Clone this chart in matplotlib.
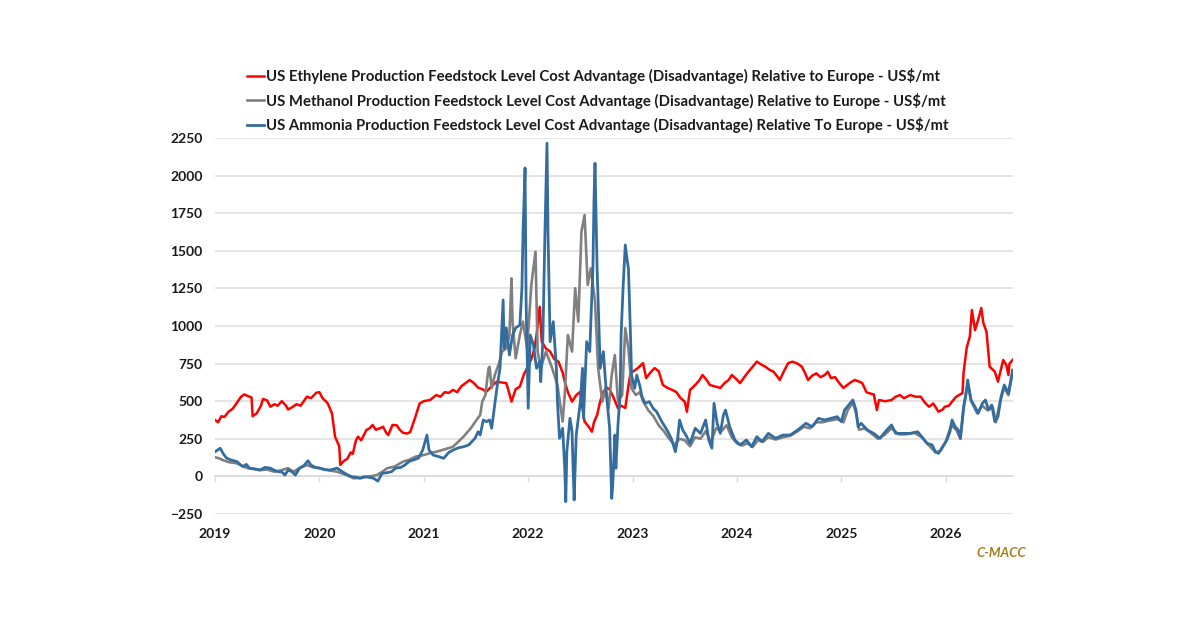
import matplotlib
matplotlib.use("Agg")
import matplotlib.pyplot as plt
from matplotlib.ticker import FixedLocator

# ---------------- data (decimal year, US$/mt) ----------------
eth_x = [2019.00, 2019.03, 2019.06, 2019.09, 2019.13, 2019.17, 2019.21, 2019.25, 2019.28, 2019.33,
         2019.35, 2019.36, 2019.40, 2019.44, 2019.46, 2019.50, 2019.53, 2019.57, 2019.60, 2019.64,
         2019.68, 2019.70, 2019.74, 2019.78, 2019.82, 2019.88, 2019.92, 2019.97, 2020.00, 2020.03,
         2020.06, 2020.08, 2020.12, 2020.15, 2020.19, 2020.20, 2020.23, 2020.27, 2020.30, 2020.32,
         2020.35, 2020.37, 2020.40, 2020.43, 2020.45, 2020.48, 2020.51, 2020.54, 2020.58, 2020.61,
         2020.64, 2020.66, 2020.70, 2020.74, 2020.77, 2020.80, 2020.84, 2020.87, 2020.92, 2020.96,
         2021.00, 2021.06, 2021.12, 2021.16, 2021.20, 2021.24, 2021.28, 2021.32, 2021.36, 2021.40,
         2021.44, 2021.48, 2021.52, 2021.56, 2021.60, 2021.65, 2021.70, 2021.74, 2021.79, 2021.82,
         2021.84, 2021.88, 2021.92, 2021.96, 2021.99, 2022.03, 2022.06, 2022.08, 2022.11, 2022.13,
         2022.17, 2022.21, 2022.25, 2022.29, 2022.33, 2022.35, 2022.38, 2022.42, 2022.46, 2022.50,
         2022.52, 2022.54, 2022.58, 2022.61, 2022.63, 2022.66, 2022.69, 2022.72, 2022.75, 2022.78,
         2022.82, 2022.86, 2022.89, 2022.93, 2022.96, 2022.98, 2023.01, 2023.05, 2023.10, 2023.13,
         2023.17, 2023.21, 2023.25, 2023.29, 2023.33, 2023.38, 2023.42, 2023.46, 2023.50, 2023.52,
         2023.55, 2023.60, 2023.64, 2023.67, 2023.71, 2023.74, 2023.78, 2023.84, 2023.88, 2023.92,
         2023.95, 2023.99, 2024.03, 2024.07, 2024.11, 2024.15, 2024.19, 2024.23, 2024.27, 2024.31,
         2024.35, 2024.38, 2024.41, 2024.45, 2024.49, 2024.53, 2024.58, 2024.62, 2024.65, 2024.68,
         2024.72, 2024.76, 2024.80, 2024.84, 2024.87, 2024.90, 2024.94, 2024.98, 2025.02, 2025.06,
         2025.10, 2025.13, 2025.17, 2025.20, 2025.24, 2025.26, 2025.31, 2025.34, 2025.36, 2025.42,
         2025.48, 2025.52, 2025.56, 2025.60, 2025.66, 2025.71, 2025.76, 2025.80, 2025.84, 2025.88,
         2025.93, 2025.97, 2025.99, 2026.03, 2026.06, 2026.10, 2026.16, 2026.17, 2026.20, 2026.23,
         2026.25, 2026.28, 2026.31, 2026.34, 2026.36, 2026.39, 2026.42, 2026.47, 2026.50, 2026.55,
         2026.58, 2026.60, 2026.61, 2026.64]
eth_y = [375, 360, 400, 395, 430, 450, 490, 530, 545, 530,
         525, 400, 420, 470, 515, 505, 463, 480, 470, 500,
         470, 445, 460, 480, 470, 530, 520, 556, 560, 520,
         500, 485, 420, 264, 200, 76, 100, 120, 160, 150,
         240, 264, 240, 280, 308, 320, 342, 310, 320, 330,
         290, 275, 342, 340, 310, 290, 285, 295, 397, 485,
         500, 508, 541, 530, 560, 555, 575, 560, 600, 620,
         641, 620, 590, 580, 563, 600, 630, 625, 620, 550,
         497, 580, 597, 680, 720, 780, 850, 940, 1128, 895,
         850, 830, 780, 763, 690, 630, 560, 497, 540, 563,
         450, 364, 330, 297, 360, 408, 500, 563, 590, 580,
         520, 453, 470, 455, 600, 690, 700, 720, 753, 654,
         690, 720, 700, 608, 590, 575, 560, 520, 497, 430,
         575, 608, 640, 674, 640, 608, 600, 588, 620, 641,
         674, 650, 620, 660, 696, 730, 763, 745, 730, 710,
         696, 670, 641, 700, 753, 763, 750, 730, 690, 641,
         670, 685, 660, 674, 696, 654, 660, 620, 588, 610,
         630, 641, 630, 620, 560, 554, 545, 441, 508, 500,
         508, 530, 541, 520, 541, 530, 530, 490, 463, 485,
         430, 445, 463, 470, 497, 530, 554, 687, 854, 929,
         1106, 973, 1040, 1120, 1020, 962, 730, 696, 630, 774,
         740, 674, 750, 774]

meth_x = [2019.00, 2019.04, 2019.08, 2019.13, 2019.21, 2019.26, 2019.31, 2019.38, 2019.43, 2019.50,
          2019.57, 2019.63, 2019.70, 2019.75, 2019.82, 2019.88, 2019.94, 2020.00, 2020.08, 2020.17,
          2020.26, 2020.33, 2020.40, 2020.47, 2020.55, 2020.60, 2020.65, 2020.72, 2020.80, 2020.86,
          2020.92, 2021.00, 2021.06, 2021.12, 2021.20, 2021.28, 2021.33, 2021.38, 2021.45, 2021.50,
          2021.54, 2021.56, 2021.59, 2021.62, 2021.63, 2021.65, 2021.68, 2021.72, 2021.75, 2021.79,
          2021.82, 2021.84, 2021.85, 2021.88, 2021.92, 2021.95, 2021.99, 2022.03, 2022.07, 2022.09,
          2022.12, 2022.17, 2022.23, 2022.28, 2022.33, 2022.35, 2022.38, 2022.42, 2022.45, 2022.48,
          2022.51, 2022.54, 2022.57, 2022.60, 2022.64, 2022.67, 2022.71, 2022.74, 2022.77, 2022.80,
          2022.83, 2022.86, 2022.90, 2022.93, 2022.96, 2022.99, 2023.03, 2023.07, 2023.10, 2023.15,
          2023.20, 2023.25, 2023.30, 2023.35, 2023.40, 2023.45, 2023.50, 2023.55, 2023.60, 2023.65,
          2023.70, 2023.75, 2023.80, 2023.85, 2023.90, 2023.95, 2024.00, 2024.05, 2024.10, 2024.15,
          2024.20, 2024.25, 2024.30, 2024.37, 2024.44, 2024.51, 2024.58, 2024.64, 2024.70, 2024.76,
          2024.82, 2024.88, 2024.96, 2025.02, 2025.06, 2025.11, 2025.14, 2025.17, 2025.22, 2025.28,
          2025.35, 2025.42, 2025.48, 2025.55, 2025.62, 2025.70, 2025.77, 2025.82, 2025.90, 2025.95,
          2026.00, 2026.05, 2026.10, 2026.14, 2026.18, 2026.21, 2026.25, 2026.30, 2026.35, 2026.40,
          2026.45, 2026.48, 2026.52, 2026.56, 2026.60, 2026.64]
meth_y = [127, 120, 107, 95, 87, 70, 55, 48, 42, 45,
          31, 40, 55, 31, 60, 75, 60, 55, 42, 31,
          9, -13, -8, -2, 9, 30, 55, 65, 98, 110,
          131, 142, 155, 164, 180, 197, 230, 264, 320, 370,
          408, 497, 541, 719, 729, 586, 674, 750, 830, 852,
          940, 1317, 1029, 785, 940, 1029, 852, 1273, 1494, 830,
          719, 830, 719, 608, 364, 541, 940, 830, 1251, 1029,
          1627, 1738, 1273, 1384, 1162, 719, 497, 586, 453, 674,
          807, 497, 541, 985, 852, 586, 541, 560, 500, 440,
          400, 340, 300, 250, 210, 250, 240, 200, 260, 250,
          300, 230, 320, 300, 340, 260, 220, 205, 220, 195,
          240, 230, 260, 245, 260, 270, 300, 330, 320, 360,
          360, 370, 380, 360, 440, 490, 420, 310, 320, 290,
          250, 280, 320, 280, 280, 290, 260, 220, 160, 170,
          230, 340, 310, 250, 500, 610, 490, 420, 470, 440,
          460, 360, 500, 590, 540, 690]

amm_x = [2019.00, 2019.05, 2019.08, 2019.11, 2019.15, 2019.21, 2019.24, 2019.27, 2019.30, 2019.33,
         2019.38, 2019.43, 2019.48, 2019.53, 2019.57, 2019.61, 2019.64, 2019.67, 2019.70, 2019.74,
         2019.77, 2019.81, 2019.85, 2019.89, 2019.92, 2019.96, 2020.00, 2020.05, 2020.10, 2020.17,
         2020.22, 2020.27, 2020.31, 2020.35, 2020.39, 2020.43, 2020.47, 2020.52, 2020.56, 2020.60,
         2020.65, 2020.69, 2020.73, 2020.78, 2020.82, 2020.86, 2020.90, 2020.95, 2020.99, 2021.03,
         2021.05, 2021.09, 2021.15, 2021.19, 2021.24, 2021.28, 2021.33, 2021.38, 2021.43, 2021.49,
         2021.52, 2021.54, 2021.57, 2021.60, 2021.63, 2021.65, 2021.70, 2021.73, 2021.76, 2021.77,
         2021.79, 2021.82, 2021.85, 2021.88, 2021.92, 2021.94, 2021.95, 2021.97, 2021.98, 2022.00,
         2022.02, 2022.05, 2022.08, 2022.11, 2022.12, 2022.14, 2022.16, 2022.18, 2022.19, 2022.21,
         2022.24, 2022.27, 2022.28, 2022.30, 2022.33, 2022.35, 2022.36, 2022.37, 2022.40, 2022.42,
         2022.43, 2022.44, 2022.46, 2022.50, 2022.52, 2022.53, 2022.56, 2022.59, 2022.60, 2022.62,
         2022.63, 2022.64, 2022.66, 2022.69, 2022.72, 2022.75, 2022.78, 2022.80, 2022.81, 2022.83,
         2022.84, 2022.86, 2022.88, 2022.89, 2022.91, 2022.93, 2022.95, 2022.96, 2022.98, 2022.99,
         2023.02, 2023.04, 2023.07, 2023.09, 2023.12, 2023.16, 2023.20, 2023.23, 2023.28, 2023.33,
         2023.37, 2023.41, 2023.43, 2023.45, 2023.48, 2023.51, 2023.55, 2023.60, 2023.65, 2023.70,
         2023.73, 2023.76, 2023.78, 2023.81, 2023.84, 2023.87, 2023.89, 2023.93, 2023.98, 2024.03,
         2024.09, 2024.14, 2024.19, 2024.24, 2024.30, 2024.37, 2024.44, 2024.51, 2024.58, 2024.62,
         2024.66, 2024.72, 2024.78, 2024.84, 2024.90, 2024.96, 2025.00, 2025.03, 2025.07, 2025.11,
         2025.14, 2025.16, 2025.19, 2025.25, 2025.31, 2025.37, 2025.42, 2025.48, 2025.52, 2025.59,
         2025.66, 2025.73, 2025.77, 2025.82, 2025.87, 2025.90, 2025.93, 2025.97, 2026.01, 2026.04,
         2026.06, 2026.09, 2026.12, 2026.14, 2026.17, 2026.19, 2026.21, 2026.24, 2026.28, 2026.31,
         2026.35, 2026.38, 2026.41, 2026.44, 2026.47, 2026.50, 2026.53, 2026.56, 2026.60, 2026.62,
         2026.64]
amm_y = [164, 187, 150, 122, 110, 98, 80, 65, 80, 55,
         50, 42, 60, 55, 40, 31, 30, 9, 42, 30,
         9, 55, 70, 104, 75, 60, 55, 45, 42, 55,
         31, 10, -2, -5, -13, -2, -5, -13, -31, 20,
         25, 31, 55, 60, 76, 100, 109, 122, 176, 275,
         175, 142, 130, 120, 160, 175, 190, 197, 209, 253,
         297, 275, 375, 364, 375, 320, 586, 719, 1173, 852,
         987, 807, 940, 987, 1007, 1253, 1605, 2051, 1162, 453,
         940, 874, 719, 763, 630, 896, 1605, 2215, 1605, 896,
         1029, 719, 497, 253, 320, 54, -168, 164, 386, 300,
         54, -157, 275, 497, 719, 386, 896, 830, 1029, 1384,
         1826, 2082, 1384, 719, 830, 541, 320, -146, -57, 275,
         54, 342, 541, 940, 1273, 1539, 1428, 1384, 940, 674,
         586, 674, 600, 530, 486, 497, 450, 430, 364, 308,
         253, 164, 242, 375, 308, 275, 220, 320, 286, 375,
         242, 187, 486, 353, 286, 408, 441, 330, 242, 209,
         242, 198, 264, 231, 286, 253, 275, 275, 308, 330,
         353, 330, 386, 375, 386, 397, 364, 441, 475, 508,
         441, 330, 353, 308, 286, 253, 297, 342, 286, 286,
         286, 297, 264, 220, 209, 164, 153, 198, 242, 297,
         375, 330, 308, 253, 463, 530, 641, 508, 463, 419,
         486, 508, 441, 475, 364, 397, 530, 608, 553, 630,
         707]

labels = [
    "US Ethylene Production Feedstock Level Cost Advantage (Disadvantage) Relative to Europe - US$/mt",
    "US Methanol Production Feedstock Level Cost Advantage (Disadvantage) Relative to Europe - US$/mt",
    "US Ammonia Production Feedstock Level Cost Advantage (Disadvantage) Relative To Europe - US$/mt",
]
colors = ["#FF0000", "#808080", "#336C9E"]
year_ticks = [2019, 2020, 2021, 2022, 2023, 2024, 2025, 2026]
y_ticks = [-250, 0, 250, 500, 750, 1000, 1250, 1500, 1750, 2000, 2250]

# ---------------- figure ----------------
plt.rcParams['font.family'] = ['Lato', 'DejaVu Sans']
fig = plt.figure(figsize=(12, 6.27), dpi=100)
ax = fig.add_axes([215/1200, 1 - 514/627, (1012.6 - 215)/1200, (514 - 138)/627])

l1, = ax.plot(eth_x, eth_y, color=colors[0], lw=1.8, zorder=3)
l2, = ax.plot(meth_x, meth_y, color=colors[1], lw=1.9, zorder=4)
l3, = ax.plot(amm_x, amm_y, color=colors[2], lw=2.0, zorder=5)

ax.set_xlim(2019, 2026.64)
ax.set_ylim(-250, 2250)
ax.yaxis.set_major_locator(FixedLocator(y_ticks))
ax.xaxis.set_major_locator(FixedLocator(year_ticks))
ax.set_xticklabels([str(t) for t in year_ticks])
ax.grid(axis='y', color='#E3E3E3', lw=1.3, zorder=0)
ax.set_axisbelow(True)

for s in ['top', 'right', 'left']:
    ax.spines[s].set_visible(False)
ax.spines['bottom'].set_position(('data', 0))
ax.spines['bottom'].set_color('#DCDCDC')
ax.spines['bottom'].set_linewidth(1.3)

ax.tick_params(axis='y', length=0, pad=9, labelsize=10, labelcolor='#1A1A1A')
ax.tick_params(axis='x', direction='out', length=4, width=1, color='#DCDCDC',
               pad=33, labelsize=10, labelcolor='#1A1A1A')
for t in ax.get_xticklabels() + ax.get_yticklabels():
    t.set_fontweight('bold')

leg = fig.legend([l1, l2, l3], labels, loc='upper left', bbox_to_anchor=(234/1200, 1 - 55/627),
                 frameon=False, handlelength=1.1, handletextpad=0.15, labelspacing=0.55,
                 prop={'family': ['Lato', 'DejaVu Sans'], 'weight': 'bold', 'size': 10.75})
for t in leg.get_texts():
    t.set_color('#1A1A1A')

fig.text(1026/1200, 1 - 553/627, "C-MACC", ha='right', va='center', color='#A07E1C',
         fontsize=9.5, fontweight='bold', fontstyle='italic')

fig.savefig("out.png", dpi=100, facecolor='white')
